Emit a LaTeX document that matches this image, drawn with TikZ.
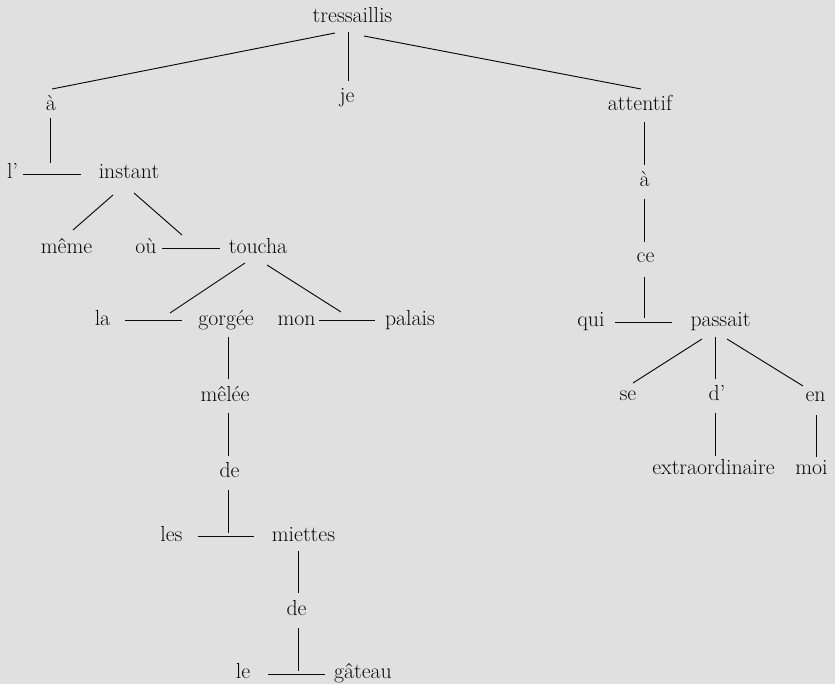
\documentclass[tikz,border=0pt]{standalone}
\usepackage{fontspec}
\usetikzlibrary{calc}
\definecolor{bg}{RGB}{224,224,224}
\definecolor{ink}{RGB}{10,10,10}
\begin{document}
\begin{tikzpicture}[x=1pt,y=-1pt,
  w/.style={anchor=base, inner sep=0pt, text=ink, font=\fontsize{21.8}{26}\selectfont},
  link/.style={draw=ink, line width=0.95pt}]
\fill[bg] (0,0) rectangle (835,684);
\useasboundingbox (0,0) rectangle (835,684);
% nodes
\node[w] (tres) at (352.5,23) {tressaillis};
\node[w] (je) at (347,103) {je};
\node[w] (a1) at (51,111) {à};
\node[w] (att) at (640,111) {attentif};
\node[w] (lp) at (12.5,179) {l’};
\node[w] (inst) at (129,179) {instant};
\node[w] (meme) at (66.5,254) {même};
\node[w] (ou) at (146,254) {où};
\node[w] (touch) at (258,254) {toucha};
\node[w] (la) at (102.5,326) {la};
\node[w] (gorg) at (226,326) {gorgée};
\node[w] (mon) at (296.5,326) {mon};
\node[w] (pal) at (410,326) {palais};
\node[w] (mel) at (225,401) {mêlée};
\node[w] (deA) at (229.5,477) {de};
\node[w] (les) at (171.5,541) {les};
\node[w] (miet) at (303.5,541) {miettes};
\node[w] (deB) at (296.5,615) {de};
\node[w] (le) at (243,678) {le};
\node[w] (gat) at (363,678) {gâteau};
\node[w] (a2) at (644.5,187) {à};
\node[w] (ce) at (645.5,263) {ce};
\node[w] (qui) at (591,327) {qui};
\node[w] (pass) at (720.5,327) {passait};
\node[w] (se) at (628,400) {se};
\node[w] (dp) at (717,400) {d’};
\node[w] (en) at (815.5,401) {en};
\node[w] (extra) at (713.5,474) {extraordinaire};
\node[w] (moi) at (811.5,474) {moi};
% connectors
\draw[link] ($(tres.base)+(-17.5,10)$) -- ($(a1.base)+(1,-22)$);
\draw[link] ($(tres.base)+(-4.5,9)$) -- ($(je.base)+(1,-22)$);
\draw[link] ($(tres.base)+(11.5,13)$) -- ($(att.base)+(1,-22)$);
\draw[link] ($(a1.base)+(-1,7)$) -- ($(a1.base)+(-1,52)$);
\draw[link] ($(lp.base)+(10.5,-5)$) -- ($(inst.base)+(-48,-5)$);
\draw[link] ($(inst.base)+(-16,16)$) -- ($(meme.base)+(6.5,-24)$);
\draw[link] ($(inst.base)+(5,14)$) -- ($(touch.base)+(-76,-19)$);
\draw[link] ($(ou.base)+(16,-6)$) -- ($(touch.base)+(-38,-6)$);
\draw[link] ($(touch.base)+(-13,9)$) -- ($(gorg.base)+(-56,-13)$);
\draw[link] ($(la.base)+(22.5,-6)$) -- ($(gorg.base)+(-44,-6)$);
\draw[link] ($(touch.base)+(9,11)$) -- ($(pal.base)+(-69,-14)$);
\draw[link] ($(mon.base)+(22.5,-6)$) -- ($(pal.base)+(-35,-6)$);
\draw[link] ($(gorg.base)+(2,11)$) -- ($(mel.base)+(3,-22)$);
\draw[link] ($(mel.base)+(3,12)$) -- ($(deA.base)+(-1.5,-21)$);
\draw[link] ($(deA.base)+(-1.5,13)$) -- ($(deA.base)+(-1.5,56)$);
\draw[link] ($(les.base)+(26.5,-5)$) -- ($(miet.base)+(-49.5,-5)$);
\draw[link] ($(miet.base)+(-5.5,10)$) -- ($(deB.base)+(1.5,-22)$);
\draw[link] ($(deB.base)+(1.5,13)$) -- ($(deB.base)+(1.5,56)$);
\draw[link] ($(le.base)+(25,-4)$) -- ($(gat.base)+(-38,-4)$);
\draw[link] ($(att.base)+(4,11)$) -- ($(a2.base)+(-0.5,-22)$);
\draw[link] ($(a2.base)+(-0.5,12)$) -- ($(ce.base)+(-1.5,-21)$);
\draw[link] ($(ce.base)+(-1,14)$) -- ($(ce.base)+(-1,55)$);
\draw[link] ($(qui.base)+(24,-5)$) -- ($(pass.base)+(-48.5,-5)$);
\draw[link] ($(pass.base)+(-18.5,12)$) -- ($(se.base)+(5,-17)$);
\draw[link] ($(pass.base)+(-5.5,10)$) -- ($(dp.base)+(-2,-21)$);
\draw[link] ($(pass.base)+(6.5,12)$) -- ($(en.base)+(-12.5,-15)$);
\draw[link] ($(dp.base)+(-2,13)$) -- ($(extra.base)+(1.5,-18)$);
\draw[link] ($(en.base)+(0.5,14)$) -- ($(moi.base)+(4.5,-17)$);
\end{tikzpicture}
\end{document}
